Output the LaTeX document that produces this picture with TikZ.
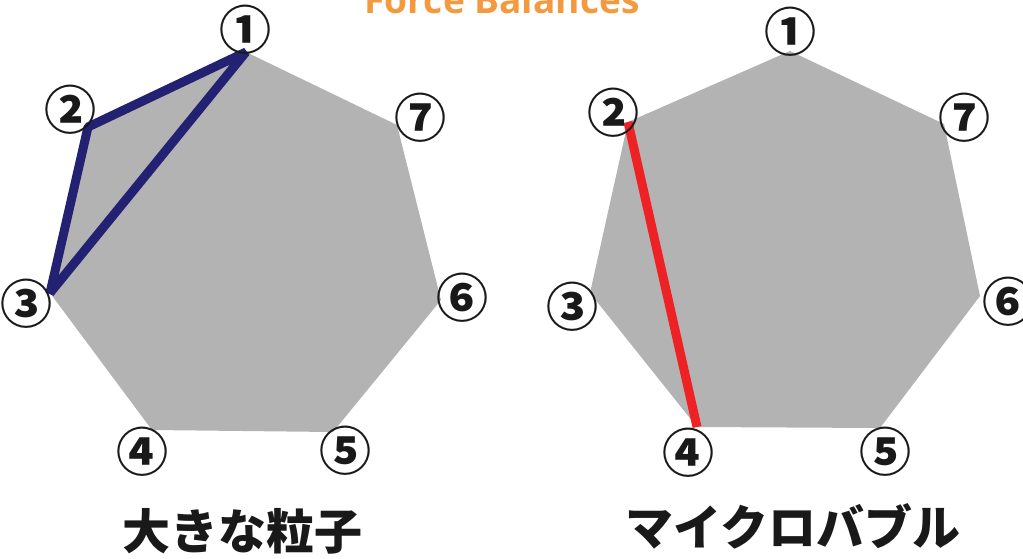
\documentclass[tikz,border=0pt]{standalone}
\usepackage{fontspec}
\newfontfamily\jp{Noto Sans CJK JP}
\newfontfamily\titlefont{Open Sans}
\definecolor{polygray}{HTML}{B3B3B3}
\definecolor{navyline}{HTML}{232272}
\definecolor{redline}{HTML}{EE2224}
\definecolor{titleorange}{HTML}{F39A40}
\tikzset{
  poly/.style={fill=polygray, draw=none},
  num/.style={font=\jp\bfseries\fontsize{52}{52}\selectfont, inner sep=0pt, text=black!90},
  caption/.style={font=\jp\bfseries\fontsize{48}{48}\selectfont, inner sep=0pt, text=black!90},
  bond/.style={line width=9pt, line join=bevel},
}
\begin{document}
\begin{tikzpicture}[x=1pt, y=-1pt]
\useasboundingbox (0,0) rectangle (1023,558);
% title (cut by top edge)
\node[anchor=base, inner sep=0pt, text=titleorange] (title) at (502,13)
  {\resizebox{275pt}{!}{\titlefont\bfseries Force Balances}};
% left heptagon
\coordinate (L1) at (246,52);
\coordinate (L2) at (88,127);
\coordinate (L3) at (50,293);
\coordinate (L4) at (152,430);
\coordinate (L5) at (333,432);
\coordinate (L6) at (441,300);
\coordinate (L7) at (397,125);
\fill[poly] (L1) -- (L2) -- (L3) -- (L4) -- (L5) -- (L6) -- (L7) -- cycle;
% right heptagon
\coordinate (R1) at (790,51);
\coordinate (R2) at (628,122);
\coordinate (R3) at (590,293);
\coordinate (R4) at (697,427);
\coordinate (R5) at (880,428);
\coordinate (R6) at (980,296);
\coordinate (R7) at (944,124);
\fill[poly] (R1) -- (R2) -- (R3) -- (R4) -- (R5) -- (R6) -- (R7) -- cycle;
% connectors
\draw[bond, draw=navyline] (L1) -- (L2) -- (L3) -- cycle;
\draw[bond, draw=redline] (R2) -- (R4);
% left labels
\node[num] (l1) at (245,30) {①};
\node[num] (l2) at (70,110) {②};
\node[num] (l3) at (27,304) {③};
\node[num] (l4) at (142,452) {④};
\node[num] (l5) at (345,451) {⑤};
\node[num] (l6) at (462,298) {⑥};
\node[num] (l7) at (420,118) {⑦};
% right labels
\node[num] (r1) at (790,32) {①};
\node[num] (r2) at (613,113) {②};
\node[num] (r3) at (572,307) {③};
\node[num] (r4) at (688,453) {④};
\node[num] (r5) at (885,452) {⑤};
\node[num] (r6) at (1008,302) {⑥};
\node[num] (r7) at (964,118) {⑦};
% captions
\node[caption] (capL) at (242,531) {大きな粒子};
\node[caption] (capR) at (793,526) {マイクロバブル};
\end{tikzpicture}
\end{document}
